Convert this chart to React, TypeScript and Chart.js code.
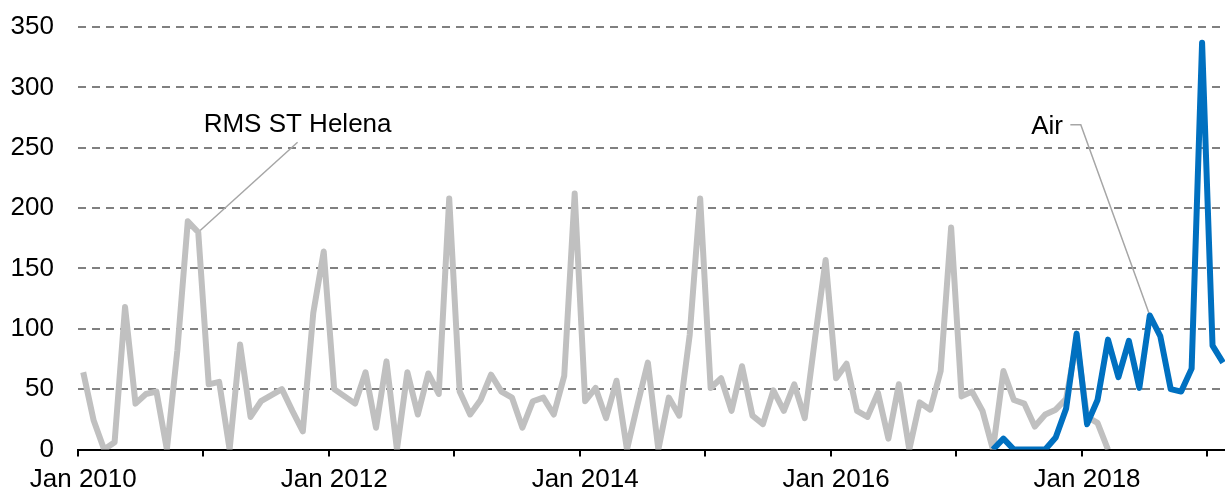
import React, { useEffect, useRef } from "react";
import { Chart, registerables } from "chart.js";

Chart.register(...registerables);

const monthNames = ["Jan", "Feb", "Mar", "Apr", "May", "Jun", "Jul", "Aug", "Sep", "Oct", "Nov", "Dec"];
const years = [2010, 2011, 2012, 2013, 2014, 2015, 2016, 2017, 2018, 2019];
const monthCount = 110; // Jan 2010 .. Feb 2019
const categories: string[] = [];
for (const yr of years) for (const m of monthNames) if (categories.length < monthCount) categories.push(`${m} ${yr}`);

// RMS St Helena passengers, Jan 2010 .. Mar 2018
const rmsValues: (number | null)[] = [
  64, 24, 0, 6, 118, 38, 46, 48, 0, 82, 189, 180,
  54, 56, 0, 87, 27, 40, 45, 50, 32, 15, 113, 164,
  50, 44, 38, 64, 18, 73, 0, 64, 29, 63, 46, 208,
  48, 29, 41, 62, 48, 43, 18, 40, 43, 29, 61, 212,
  40, 51, 26, 57, 0, 37, 72, 0, 43, 28, 95, 208,
  51, 59, 32, 69, 28, 21, 49, 32, 54, 26, 93, 157,
  59, 71, 32, 27, 47, 9, 54, 0, 39, 33, 65, 184,
  44, 48, 32, 0, 65, 41, 38, 19, 29, 33, 42, 90,
  27, 22, 0,
];

// Air passengers, Apr 2017 .. Feb 2019
const airStartIndex = 87;
const airValues: number[] = [
  0, 9, 0, 0, 0, 0, 10, 34, 96,
  21, 41, 91, 60, 90, 51, 111, 94, 50, 48, 67, 337,
  86, 72,
];

const yTicks = { min: 0, max: 350, step: 50 };
const tickEveryMonths = 12;
const labelEveryMonths = 24;

const rmsSeries: (number | null)[] = categories.map((_, i) => (i < rmsValues.length ? rmsValues[i] : null));
const airSeries: (number | null)[] = categories.map((_, i) =>
  i >= airStartIndex && i - airStartIndex < airValues.length ? airValues[i - airStartIndex] : null
);

// annotations expressed in data coordinates (category index, value)
const rmsLabel = { text: "RMS ST Helena", at: [20.5, 269], from: [20.5, 254.5], toIndex: 11 };
const airLabel = { text: "Air", at: [93.7, 267.7], from: [94.4, 269], elbow: [95.4, 269], toIndex: 102 };

const FONT = '"Liberation Sans", Arial, Helvetica, sans-serif';

const tickIsYear = (ctx: any) => {
  const idx = ctx && typeof ctx.index === "number" ? ctx.index : -1;
  return idx >= 0 && idx < categories.length && idx % tickEveryMonths === 0;
};

const leaderPlugin = {
  id: "leaders",
  beforeDatasetsDraw(chart: any) {
    const { ctx, scales } = chart;
    const x = scales.x, y = scales.y;
    ctx.save();
    ctx.strokeStyle = "#a6a6a6";
    ctx.lineWidth = 1.5;
    ctx.beginPath();
    ctx.moveTo(x.getPixelForValue(rmsLabel.from[0]), y.getPixelForValue(rmsLabel.from[1]));
    ctx.lineTo(x.getPixelForValue(rmsLabel.toIndex), y.getPixelForValue(rmsSeries[rmsLabel.toIndex] as number));
    ctx.stroke();
    ctx.beginPath();
    ctx.moveTo(x.getPixelForValue(airLabel.from[0]), y.getPixelForValue(airLabel.from[1]));
    ctx.lineTo(x.getPixelForValue(airLabel.elbow[0]), y.getPixelForValue(airLabel.elbow[1]));
    ctx.lineTo(x.getPixelForValue(airLabel.toIndex), y.getPixelForValue(airSeries[airLabel.toIndex] as number));
    ctx.stroke();
    ctx.restore();
  },
  afterDatasetsDraw(chart: any) {
    const { ctx, scales } = chart;
    const x = scales.x, y = scales.y;
    ctx.save();
    ctx.font = `26px ${FONT}`;
    ctx.fillStyle = "#000";
    ctx.textBaseline = "middle";
    ctx.textAlign = "center";
    ctx.fillText(rmsLabel.text, x.getPixelForValue(rmsLabel.at[0]), y.getPixelForValue(rmsLabel.at[1]));
    ctx.textAlign = "right";
    ctx.fillText(airLabel.text, x.getPixelForValue(airLabel.at[0]), y.getPixelForValue(airLabel.at[1]));
    ctx.restore();
  },
};

export default function App() {
  const ref = useRef<HTMLCanvasElement | null>(null);
  useEffect(() => {
    document.body.style.overflow = "hidden";
    if (!ref.current) return;
    const chart = new Chart(ref.current, {
      type: "line",
      data: {
        labels: categories,
        datasets: [
          {
            label: "Air",
            data: airSeries,
            borderColor: "#0070c0",
            borderWidth: 6,
            pointRadius: 0,
            tension: 0,
            borderJoinStyle: "round",
            borderCapStyle: "butt",
            spanGaps: false,
            order: 0,
          },
          {
            label: "RMS ST Helena",
            data: rmsSeries,
            borderColor: "#c0c0c0",
            borderWidth: 6,
            pointRadius: 0,
            tension: 0,
            borderJoinStyle: "round",
            borderCapStyle: "butt",
            spanGaps: false,
            order: 1,
          },
        ],
      },
      options: {
        responsive: false,
        animation: false,
        events: [],
        layout: { padding: { top: 27, right: 0, bottom: 0, left: 0 } },
        plugins: { legend: { display: false }, tooltip: { enabled: false } },
        scales: {
          x: {
            type: "category",
            offset: true,
            afterFit: (scale: any) => {
              scale.height = 42.5;
            },
            grid: {
              offset: true,
              drawOnChartArea: false,
              drawTicks: true,
              tickLength: 7,
              lineWidth: 2,
              tickWidth: 2,
              color: (ctx: any) => (tickIsYear(ctx) ? "#000" : "rgba(0,0,0,0)"),
              tickColor: (ctx: any) => (tickIsYear(ctx) ? "#000" : "rgba(0,0,0,0)"),
            },
            border: { display: true, color: "#000", width: 2 },
            ticks: {
              autoSkip: false,
              maxRotation: 0,
              minRotation: 0,
              padding: 8,
              color: "#000",
              font: { family: FONT, size: 26 },
              callback: function (this: any, value: any, index: number) {
                return index % labelEveryMonths === 0 ? this.getLabelForValue(value) : "";
              },
            },
          },
          y: {
            min: yTicks.min,
            max: yTicks.max,
            afterFit: (scale: any) => {
              scale.width = 78;
              scale.paddingTop = 14;
              scale.paddingBottom = 14;
            },
            grid: {
              drawTicks: false,
              lineWidth: 2,
              color: (ctx: any) => (ctx.tick && ctx.tick.value === 0 ? "rgba(0,0,0,0)" : "#808080"),
            },
            border: { display: false, dash: [8, 6] },
            ticks: {
              stepSize: yTicks.step,
              padding: 24,
              color: "#000",
              font: { family: FONT, size: 26 },
            },
          },
        },
      },
      plugins: [leaderPlugin],
    });
    return () => chart.destroy();
  }, []);
  return (
    <div style={{ position: "fixed", left: 0, top: 0, width: 1231, height: 492 }}>
      <canvas ref={ref} width={1231} height={492} style={{ display: "block" }} />
    </div>
  );
}
